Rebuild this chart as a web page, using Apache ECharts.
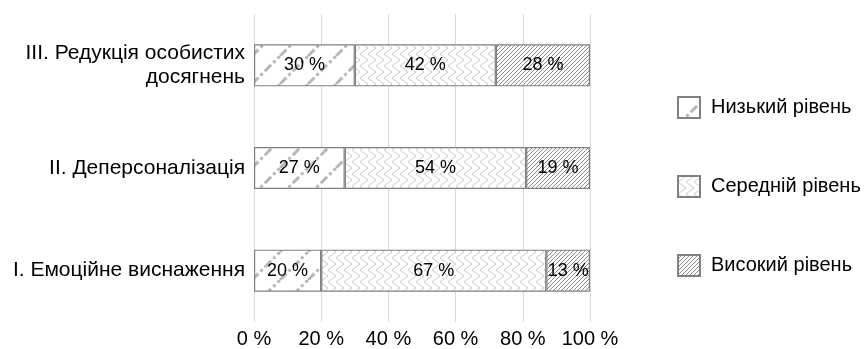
<!DOCTYPE html>
<html><head><meta charset="utf-8">
<script src="https://cdn.jsdelivr.net/npm/echarts@6/dist/echarts.min.js"></script>
<style>html,body{margin:0;padding:0;background:#fff}#c{width:866px;height:349px}</style>
</head><body><div id="c"></div>
<script>
const categories = ['I. Емоційне виснаження', 'II. Деперсоналізація', 'III. Редукція особистих\nдосягнень'];
const seriesNames = ['Низький рівень', 'Середній рівень', 'Високий рівень'];
const lowValues = [20, 27, 30];
const midValues = [67, 54, 42];
const highValues = [13, 19, 28];
const xTicks = [0, 20, 40, 60, 80, 100];

function mk(w, h, draw) {
  const c = document.createElement('canvas');
  c.width = w; c.height = h;
  const g = c.getContext('2d');
  g.fillStyle = '#fff'; g.fillRect(0, 0, w, h);
  draw(g);
  return { image: c, repeat: 'repeat' };
}
const lowPat = mk(28, 28, g => {
  g.strokeStyle = '#b8b8b8'; g.lineWidth = 3; g.setLineDash([9, 3, 3, 3]);
  for (const o of [-28, 0, 28]) { g.beginPath(); g.moveTo(o, 28); g.lineTo(o + 28, 0); g.stroke(); }
});
const midPat = mk(16, 12, g => {
  g.strokeStyle = '#c8c8c8'; g.lineWidth = 1;
  g.beginPath();
  g.moveTo(8, 0); g.lineTo(0, 6); g.lineTo(8, 12);
  g.moveTo(16, 0); g.lineTo(8, 6); g.lineTo(16, 12);
  g.stroke();
});
const highPat = mk(4, 4, g => {
  g.strokeStyle = '#8a8a8a'; g.lineWidth = 1;
  for (const o of [-4, 0, 4]) { g.beginPath(); g.moveTo(o, 4); g.lineTo(o + 4, 0); g.stroke(); }
});
const pats = [lowPat, midPat, highPat];
const vals = [lowValues, midValues, highValues];
const FF = 'Liberation Sans, Arial, sans-serif';

const chart = echarts.init(document.getElementById('c'));
chart.setOption({
  animation: false,
  textStyle: { fontFamily: FF },
  grid: { left: 254, right: 276, top: 14, bottom: 27 },
  legend: {
    orient: 'vertical', left: 672, top: 91, itemWidth: 22, itemHeight: 21, itemGap: 56,
    icon: 'rect',
    textStyle: { fontSize: 20, color: '#000', fontFamily: FF, padding: [0, 0, 0, 6] },
    data: seriesNames
  },
  xAxis: {
    type: 'value', min: 0, max: 100, interval: 20,
    axisLabel: { formatter: v => xTicks.includes(v) ? v + ' %' : '', fontSize: 20, color: '#000', margin: 7 },
    splitLine: { lineStyle: { color: '#d9d9d9', width: 1 } },
    axisLine: { show: false }, axisTick: { show: false }
  },
  yAxis: {
    type: 'category', data: categories,
    axisLabel: { fontSize: 21, color: '#000', margin: 9, align: 'right', lineHeight: 24 },
    axisLine: { show: false }, axisTick: { show: false }
  },
  series: seriesNames.map((n, i) => ({
    name: n, type: 'bar', stack: 'a', barWidth: 42, data: vals[i],
    itemStyle: { color: pats[i], borderColor: '#808080', borderWidth: 1.2 },
    label: { show: true, position: 'inside', formatter: '{c} %', fontSize: 18, color: '#000' }
  }))
});
</script></body></html>
